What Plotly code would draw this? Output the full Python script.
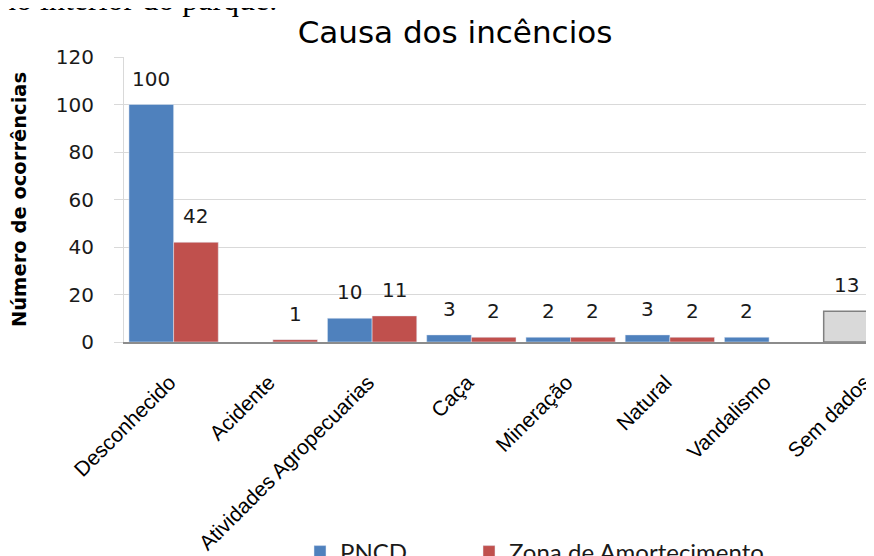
import plotly.graph_objects as go

categories = ["Desconhecido", "Acidente", "Atividades Agropecuarias", "Caça",
              "Mineração", "Natural", "Vandalismo", "Sem dados"]
pncd = [100, None, 10, 3, 2, 3, 2, None]
zona = [42, 1, 11, 2, 2, 2, None, None]
sem_dados = [None, None, None, None, None, None, None, 13]
y_ticks = [0, 20, 40, 60, 80, 100, 120]

title_text = "Causa dos incêncios"
y_title = "Número de ocorrências"
doc_text = "no interior do parque."

BLUE = "#4f81bd"
RED = "#c0504d"
GRAY_FILL = "#d9d9d9"
GRAY_LINE = "#808080"

idx = list(range(len(categories)))
# a no-break space keeps the rotated labels' ends on their ticks, as in the original
tick_labels = [c + "\u00a0" for c in categories]

W, H = 866, 548          # page body has an 8px margin
ML, MT, MB = 116, 49, 214
PLOT_W, PLOT_H = W - ML, H - MT - MB

fig = go.Figure()
fig.add_trace(go.Bar(x=idx, y=pncd, name="PNCD", marker_color=BLUE,
                     offsetgroup="a", legend="legend"))
fig.add_trace(go.Bar(x=idx, y=zona, name="Zona de Amortecimento", marker_color=RED,
                     offsetgroup="b", legend="legend2"))
fig.add_trace(go.Bar(x=idx, y=sem_dados, name="Sem dados", showlegend=False,
                     marker=dict(color=GRAY_FILL, line=dict(color=GRAY_LINE, width=1.5)),
                     offsetgroup="a"))

NUM_FONT = dict(family="DejaVu Sans", size=20, color="#1a1a1a")

# data labels above bars
half = 0.225
annotations = []
for series, shift in ((pncd, -half), (zona, half), (sem_dados, -half)):
    for i, v in zip(idx, series):
        if v is None:
            continue
        annotations.append(dict(x=i + shift, y=v, xref="x", yref="y", text=str(v),
                                showarrow=False, yanchor="bottom", yshift=12,
                                font=NUM_FONT))

# partially visible document text at the top
annotations.append(dict(x=(-10 - ML) / PLOT_W, y=(MT + PLOT_H - 11) / PLOT_H,
                        xref="paper", yref="paper", text=doc_text,
                        showarrow=False, xanchor="left", yanchor="bottom",
                        font=dict(family="Liberation Serif", size=32, color="#000000")))

leg_y = (MT + PLOT_H - 544) / PLOT_H
leg_font = dict(family="Lato", size=24, color="#1a1a1a")

fig.update_layout(
    width=W, height=H,
    margin=dict(l=ML, r=0, t=MT, b=MB, autoexpand=False),
    paper_bgcolor="white", plot_bgcolor="white",
    barmode="group", bargap=0.1, bargroupgap=0,
    title=dict(text=title_text, x=447 / W, xanchor="center", y=1 - 24 / H,
               yanchor="middle", yref="container",
               font=dict(family="DejaVu Sans", size=31, color="#000000")),
    showlegend=True,
    legend=dict(orientation="h", x=(292 - ML) / PLOT_W, xanchor="left",
                y=leg_y, yanchor="middle", font=leg_font),
    legend2=dict(orientation="h", x=(461 - ML) / PLOT_W, xanchor="left",
                 y=leg_y, yanchor="middle", font=leg_font),
    annotations=annotations,
)

fig.update_xaxes(range=[-0.5, 7.057], tickmode="array", tickvals=idx, ticktext=tick_labels,
                 tickangle=-45, showgrid=False, zeroline=False, showline=True,
                 linecolor="#8c8c8c", linewidth=1.5, ticks="", ticklabelstandoff=14,
                 ticklabeloverflow="allow",
                 tickfont=dict(family="Liberation Sans", size=21, color="#000000"))
fig.update_yaxes(range=[0, 120], tickmode="array", tickvals=y_ticks,
                 showgrid=True, gridcolor="#d9d9d9", gridwidth=1.2, zeroline=False,
                 showline=True, linecolor="#d9d9d9", linewidth=1.2,
                 ticks="outside", ticklen=9, tickcolor="#d9d9d9", ticklabelstandoff=16,
                 tickfont=NUM_FONT,
                 title=dict(text=y_title, standoff=25,
                            font=dict(family="DejaVu Sans", size=19.5, color="#000000",
                                      weight="bold")))

fig.write_html("out.html")
